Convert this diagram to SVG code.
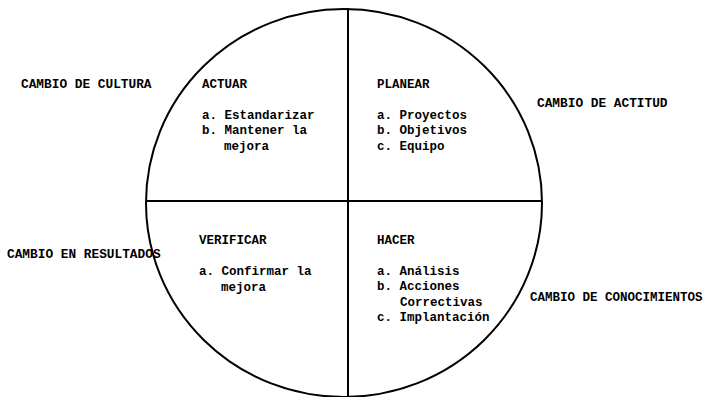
<svg xmlns="http://www.w3.org/2000/svg" width="705" height="397" viewBox="0 0 705 397">
<style>
text{font-family:"Liberation Mono","DejaVu Sans Mono",monospace;font-weight:bold;font-size:12.5px;fill:#000}
.o{font-size:12.8px}
.ln{stroke:#000;stroke-width:2;fill:none}
</style>
<rect width="705" height="397" fill="#fff"/>
<g id="connectors">
<ellipse class="ln" cx="344" cy="203" rx="198" ry="194"/>
<line class="ln" x1="348" y1="8" x2="348" y2="397"/>
<line class="ln" x1="146" y1="201" x2="542" y2="201"/>
</g>
<g id="actuar">
<text x="202" y="88">ACTUAR</text>
<text x="202" y="119">a. Estandarizar</text>
<text x="202" y="134">b. Mantener la</text>
<text x="224" y="150">mejora</text>
</g>
<g id="planear">
<text x="377" y="88">PLANEAR</text>
<text x="377" y="119">a. Proyectos</text>
<text x="377" y="134">b. Objetivos</text>
<text x="377" y="150">c. Equipo</text>
</g>
<g id="verificar">
<text x="199" y="244">VERIFICAR</text>
<text x="199" y="275">a. Confirmar la</text>
<text x="221" y="291">mejora</text>
</g>
<g id="hacer">
<text x="377" y="244">HACER</text>
<text x="377" y="275">a. Análisis</text>
<text x="377" y="290">b. Acciones</text>
<text x="400" y="306">Correctivas</text>
<text x="377" y="321">c. Implantación</text>
</g>
<g id="cultura"><text class="o" x="21" y="88">CAMBIO DE CULTURA</text></g>
<g id="actitud"><text class="o" x="537" y="107">CAMBIO DE ACTITUD</text></g>
<g id="resultados"><text class="o" x="7" y="258">CAMBIO EN RESULTADOS</text></g>
<g id="conocimientos"><text x="530" y="301" font-size="12.3px">CAMBIO DE CONOCIMIENTOS</text></g>
</svg>
